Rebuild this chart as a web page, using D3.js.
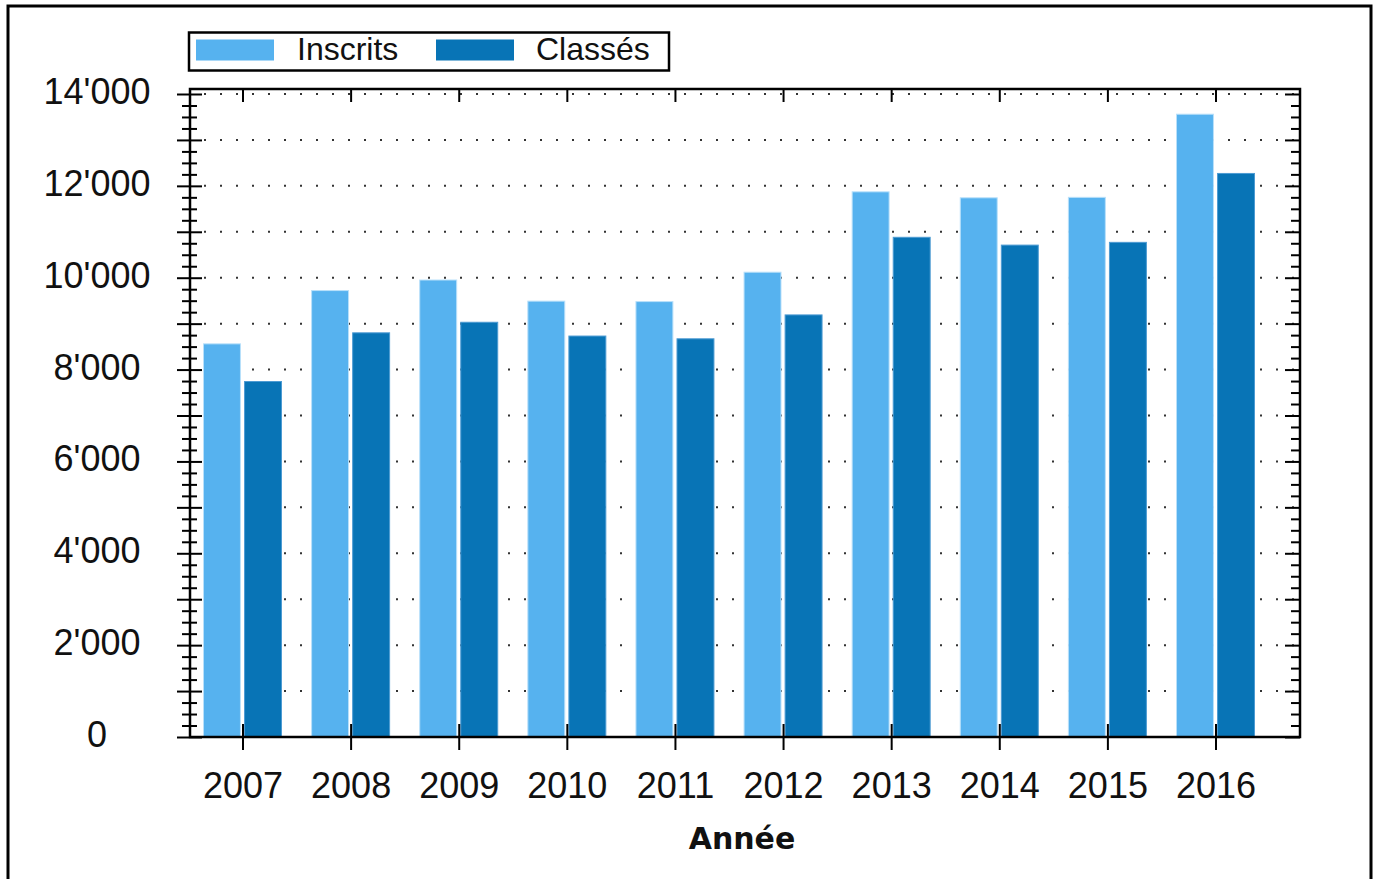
<!DOCTYPE html>
<html>
<head>
<meta charset="utf-8">
<script src="https://cdn.jsdelivr.net/npm/d3@7"></script>
<style>
body{margin:0;background:#fff}
text{font-family:"Liberation Sans",Arial,sans-serif;fill:#111}
</style>
</head>
<body>
<svg id="chart" width="1376" height="879"></svg>
<script>
const years=[2007,2008,2009,2010,2011,2012,2013,2014,2015,2016]
const inscrits=[8560,9720,9950,9490,9480,10120,11870,11740,11750,13560]
const classes=[7740,8800,9030,8730,8670,9190,10880,10710,10770,12270]
const series=["Inscrits","Classés"]
const yLabels=[0,2000,4000,6000,8000,10000,12000,14000]

const colors=["#56b2ef","#0874b6"]
const edges=["#b9e0fa","#4d9bd3"]

const svg=d3.select("#chart")
const fmt=d3.formatLocale({decimal:".",thousands:"'",grouping:[3],currency:["",""]}).format(",")

const x=d3.scalePoint().domain(years).range([242.5,1215.5])
const xs=d3.scaleBand().domain(series).range([-39,39]).paddingInner(0.1)
const y=d3.scaleLinear().domain([0,14000]).range([737,94])

// outer frame
svg.append("rect").attr("x",8).attr("y",6).attr("width",1363).attr("height",900)
	.attr("fill","none").attr("stroke","#000").attr("stroke-width",3)

// dotted grid
svg.append("g").selectAll("line").data(d3.range(1000,14001,1000)).join("line")
	.attr("x1",204).attr("x2",1298).attr("y1",d=>y(d)).attr("y2",d=>y(d))
	.attr("stroke","#333").attr("stroke-width",2).attr("stroke-dasharray","2 14")

// bars
const rows=years.map((yr,i)=>({year:yr,vals:[inscrits[i],classes[i]]}))
svg.append("g").selectAll("g").data(rows).join("g")
	.attr("transform",d=>`translate(${x(d.year)},0)`)
	.selectAll("rect").data(d=>d.vals.map((v,j)=>({key:series[j],v:v,j:j}))).join("rect")
	.attr("x",d=>xs(d.key)).attr("width",xs.bandwidth())
	.attr("y",d=>y(d.v)).attr("height",d=>y(0)-y(d.v))
	.attr("fill",d=>colors[d.j]).attr("stroke",d=>edges[d.j]).attr("stroke-width",1)

const major=d3.range(0,14001,1000)
const minor=d3.range(0,14001,250).filter(v=>v%1000)

// left axis, ticks crossing
function leftTicks(vals,size){
	const g=svg.append("g").attr("transform","translate(190,0)")
		.call(d3.axisLeft(y).tickValues(vals).tickSize(size).tickFormat(""))
	g.select(".domain").remove()
	g.selectAll("line").attr("x1",size-1).attr("stroke","#000").attr("stroke-width",2)
}
leftTicks(minor,8)
leftTicks(major,13)

// right axis, ticks inside
function rightTicks(vals,size){
	const g=svg.append("g").attr("transform","translate(1300,0)")
		.call(d3.axisLeft(y).tickValues(vals).tickSize(size).tickFormat(""))
	g.select(".domain").remove()
	g.selectAll("line").attr("stroke","#000").attr("stroke-width",2)
}
rightTicks(minor,9)
rightTicks(major,15)

// top axis
const topAx=svg.append("g").attr("transform","translate(0,89)")
	.call(d3.axisBottom(x).tickSize(13).tickFormat(""))
topAx.select(".domain").remove()
topAx.selectAll("line").attr("stroke","#000").attr("stroke-width",2)

// bottom axis
const botAx=svg.append("g").attr("transform","translate(0,737)")
	.call(d3.axisBottom(x).tickSize(13))
botAx.select(".domain").remove()
botAx.selectAll("line").attr("y1",-13).attr("stroke","#000").attr("stroke-width",2)
botAx.selectAll("text").attr("y",61).attr("dy",null)
	.style("font-size","36px").style("fill","#111")

// plot frame
svg.append("rect").attr("x",190).attr("y",89).attr("width",1110).attr("height",648)
	.attr("fill","none").attr("stroke","#000").attr("stroke-width",2.5)

// y labels
svg.append("g").selectAll("text").data(yLabels).join("text")
	.attr("x",97).attr("y",d=>y(d)+10).attr("text-anchor","middle")
	.style("font-size","36px").text(d=>fmt(d))

// x title
svg.append("text").attr("x",742).attr("y",849).attr("text-anchor","middle")
	.style("font-family","'DejaVu Sans',sans-serif").style("font-weight","bold")
	.style("font-size","30px").text("Année")

// legend
svg.append("rect").attr("x",189).attr("y",32.5).attr("width",480).attr("height",38)
	.attr("fill","#fff").attr("stroke","#000").attr("stroke-width",2.5)
const leg=svg.append("g").selectAll("g").data(series).join("g")
	.attr("transform",(d,i)=>`translate(${i?436:196},0)`)
leg.append("rect").attr("x",0).attr("y",39.5).attr("width",78).attr("height",21)
	.attr("fill",(d,i)=>colors[i])
leg.append("text").attr("x",(d,i)=>i?100:101).attr("y",59.5)
	.style("font-size","32px").text(d=>d)
</script>
</body>
</html>
